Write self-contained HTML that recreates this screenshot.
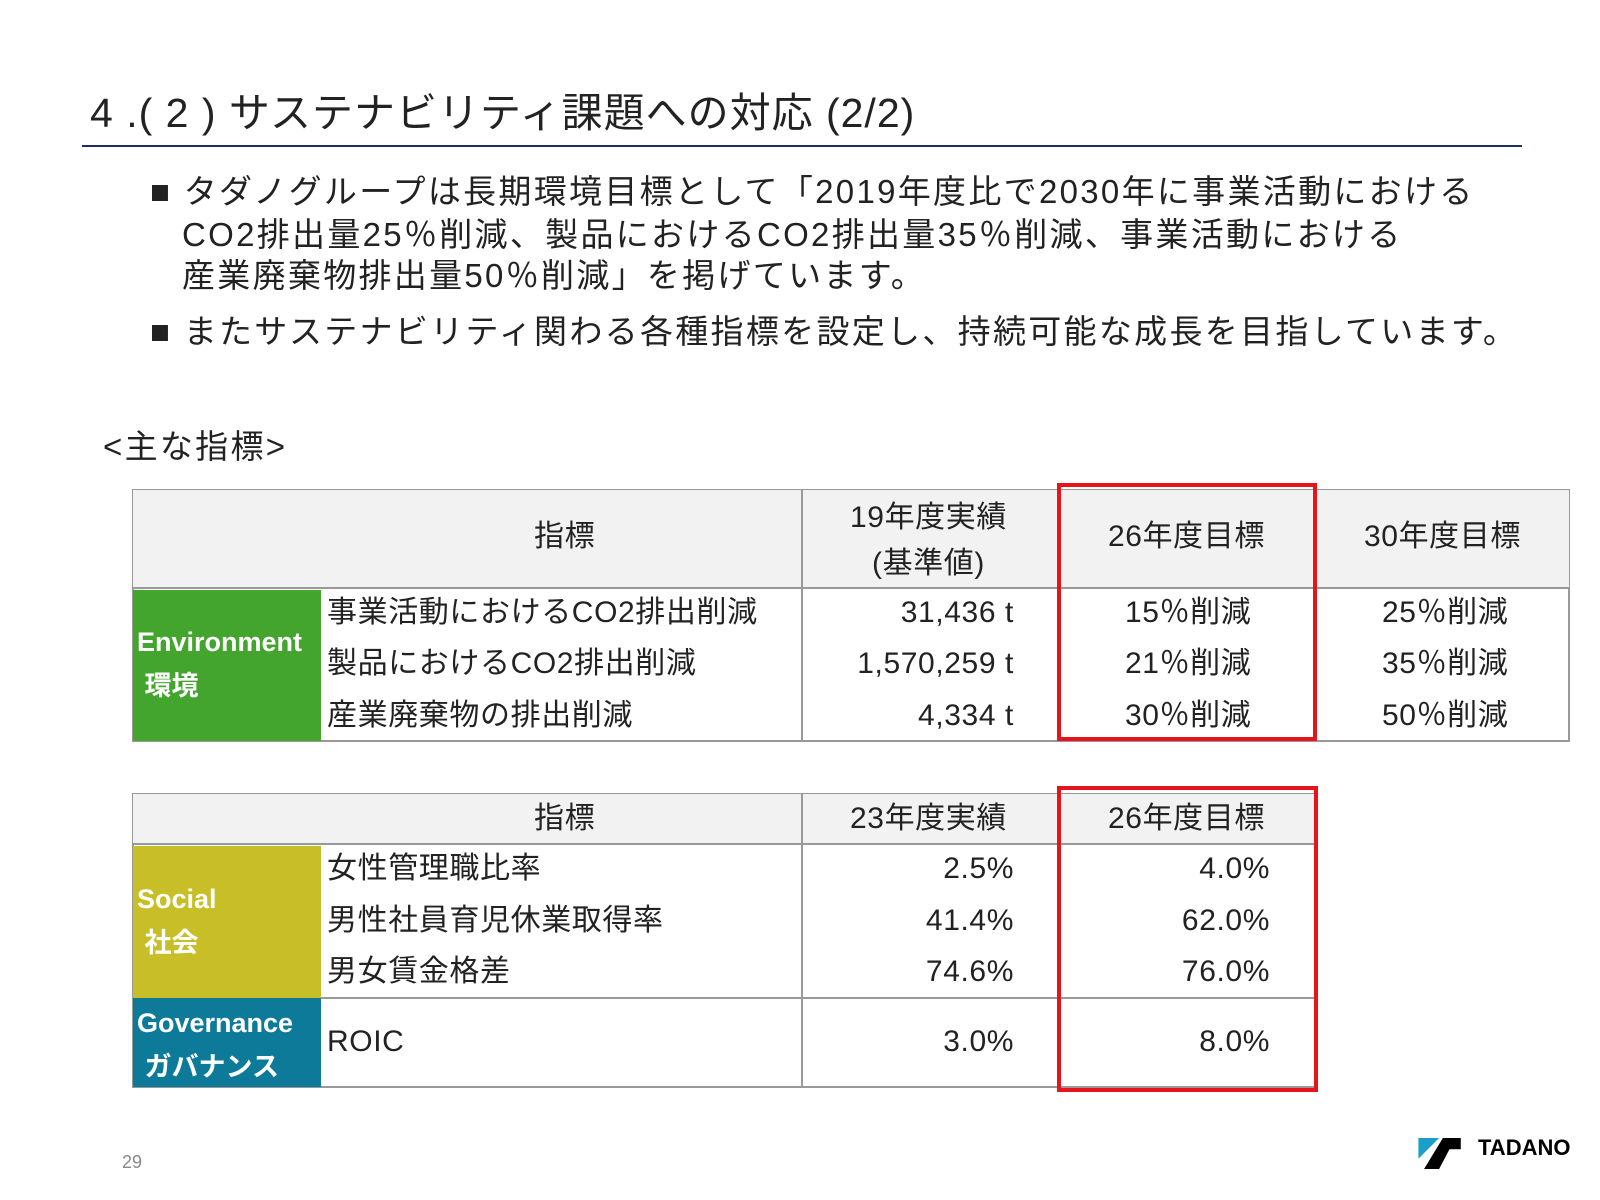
<!DOCTYPE html>
<html><head><meta charset="utf-8"><style>
body{margin:0;width:1600px;height:1200px;background:#fff;position:relative;overflow:hidden;font-family:"Liberation Sans","Noto Sans CJK JP",sans-serif;color:#222}
.a{position:absolute;white-space:nowrap}
.b{font-size:33px;line-height:40px;letter-spacing:2.3px}
.c{font-size:30px;line-height:34px;position:absolute;white-space:nowrap;letter-spacing:0.6px}
.bx{position:absolute;box-sizing:border-box}
.lab{color:#fff;font-size:27px;font-weight:bold;line-height:44px}
</style></head><body>
<div class="a" style="left:90px;top:88px;font-size:41px;line-height:50px;letter-spacing:1px">4 .( 2 ) サステナビリティ課題への対応 (2/2)</div>
<div class="bx" style="left:82px;top:145px;width:1440px;height:2px;background:#1f2d5c"></div>
<div class="a b" style="left:150px;top:172px">■ タダノグループは長期環境目標として「2019年度比で2030年に事業活動における</div>
<div class="a b" style="left:182px;top:215px">CO2排出量25％削減、製品におけるCO2排出量35％削減、事業活動における</div>
<div class="a b" style="left:182px;top:256px">産業廃棄物排出量50％削減」を掲げています。</div>
<div class="a b" style="left:150px;top:312px">■ またサステナビリティ関わる各種指標を設定し、持続可能な成長を目指しています。</div>
<div class="a b" style="left:103px;top:427px">&lt;主な指標&gt;</div>

<!-- table 1 -->
<div class="bx" style="left:132px;top:489px;width:1438px;height:253px;border:2px solid #999"></div>
<div class="bx" style="left:133px;top:490px;width:1436px;height:99px;background:#f2f2f2;border-bottom:2px solid #999"></div>
<div class="bx" style="left:801px;top:490px;width:2px;height:251px;background:#999"></div>
<div class="bx" style="left:1057px;top:490px;width:2px;height:251px;background:#999"></div>
<div class="bx" style="left:1314px;top:490px;width:2px;height:251px;background:#999"></div>
<div class="bx" style="left:133px;top:590px;width:188px;height:151px;background:#43a52e"></div>
<div class="a lab" style="left:137px;top:620px">Environment<br>&nbsp;環境</div>
<div class="c" style="left:534px;top:520px">指標</div>
<div class="c" style="left:850px;top:495px;text-align:center;line-height:46px">19年度実績<br>(基準値)</div>
<div class="c" style="left:1108px;top:520px">26年度目標</div>
<div class="c" style="left:1364px;top:520px">30年度目標</div>
<div class="c" style="left:327px;top:596px">事業活動におけるCO2排出削減</div>
<div class="c" style="left:327px;top:647px">製品におけるCO2排出削減</div>
<div class="c" style="left:327px;top:699px">産業廃棄物の排出削減</div>
<div class="c" style="right:586px;top:596px">31,436 t</div>
<div class="c" style="right:586px;top:647px">1,570,259 t</div>
<div class="c" style="right:586px;top:699px">4,334 t</div>
<div class="c" style="left:1125px;top:596px">15％削減</div>
<div class="c" style="left:1125px;top:647px">21％削減</div>
<div class="c" style="left:1125px;top:699px">30％削減</div>
<div class="c" style="left:1382px;top:596px">25％削減</div>
<div class="c" style="left:1382px;top:647px">35％削減</div>
<div class="c" style="left:1382px;top:699px">50％削減</div>
<div class="bx" style="left:1057px;top:483px;width:260px;height:258px;border:4px solid #e8141c"></div>

<!-- table 2 -->
<div class="bx" style="left:132px;top:793px;width:1184px;height:295px;border:2px solid #999"></div>
<div class="bx" style="left:133px;top:794px;width:1182px;height:51px;background:#f2f2f2;border-bottom:2px solid #999"></div>
<div class="bx" style="left:321px;top:997px;width:994px;height:2px;background:#999"></div>
<div class="bx" style="left:801px;top:794px;width:2px;height:293px;background:#999"></div>
<div class="bx" style="left:1057px;top:794px;width:2px;height:293px;background:#999"></div>
<div class="bx" style="left:133px;top:846px;width:188px;height:152px;background:#c8bf28"></div>
<div class="bx" style="left:133px;top:998px;width:188px;height:89px;background:#0e7a9a"></div>
<div class="a lab" style="left:137px;top:877px">Social<br>&nbsp;社会</div>
<div class="a lab" style="left:137px;top:1001px">Governance<br>&nbsp;ガバナンス</div>
<div class="c" style="left:534px;top:802px">指標</div>
<div class="c" style="left:850px;top:802px">23年度実績</div>
<div class="c" style="left:1108px;top:802px">26年度目標</div>
<div class="c" style="left:327px;top:852px">女性管理職比率</div>
<div class="c" style="left:327px;top:904px">男性社員育児休業取得率</div>
<div class="c" style="left:327px;top:955px">男女賃金格差</div>
<div class="c" style="left:327px;top:1025px">ROIC</div>
<div class="c" style="right:586px;top:852px">2.5%</div>
<div class="c" style="right:586px;top:904px">41.4%</div>
<div class="c" style="right:586px;top:955px">74.6%</div>
<div class="c" style="right:586px;top:1025px">3.0%</div>
<div class="c" style="right:330px;top:852px">4.0%</div>
<div class="c" style="right:330px;top:904px">62.0%</div>
<div class="c" style="right:330px;top:955px">76.0%</div>
<div class="c" style="right:330px;top:1025px">8.0%</div>
<div class="bx" style="left:1057px;top:786px;width:261px;height:306px;border:4px solid #e8141c"></div>

<div class="a" style="left:122px;top:1152px;font-size:18px;color:#888">29</div>
<svg class="a" style="left:1418px;top:1138px" width="46" height="32" viewBox="0 0 48 34"><polygon points="0,0 22,0 0,22" fill="#1aa0c8"/><polygon points="26,0 45,0 45,12 33,12 22,33 6,33" fill="#000"/></svg>
<div class="a" style="left:1478px;top:1135px;font-size:22px;font-weight:bold;color:#000">TADANO</div>
</body></html>
